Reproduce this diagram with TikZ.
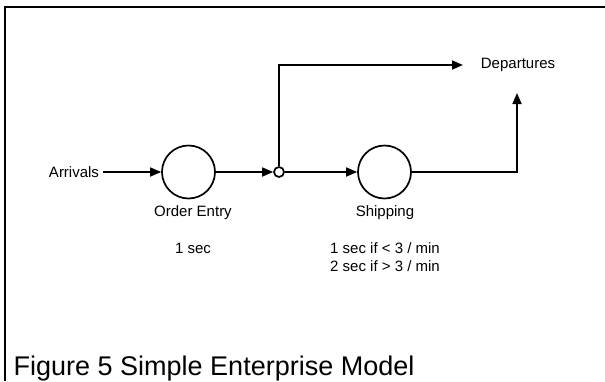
\documentclass[tikz,border=0pt]{standalone}
\usepackage{fontspec}
\setmainfont{Liberation Sans}
\usepackage{tikz}
\usetikzlibrary{arrows.meta,positioning}

\begin{document}
\begin{tikzpicture}[
    x=1pt, y=-1pt,
    every node/.style={font=\fontsize{15}{18}\selectfont},
    >={Triangle[length=11pt,width=9pt]},
    flow/.style={->, line width=1.7pt},
    station/.style={circle, draw, line width=1.7pt, minimum size=53pt, inner sep=0pt},
    junction/.style={circle, draw, line width=1.7pt, fill=white, minimum size=10pt, inner sep=0pt}
]
\useasboundingbox (0,0) rectangle (605,381);

% Frame (top and left edge only)
\draw[line width=2.2pt] (5,381) -- (5,7) -- (605,7);

% Stations
\node[inner sep=4pt] (arr) at (74,172) {Arrivals};
\node[station] (oe) at (188.5,172) {};
\node[junction] (jn) at (279,172) {};
\node[station] (ship) at (384.5,172) {};
\node (dep) at (518,65) {Departures};

% Free ends of the two exits
\coordinate (topend) at (463,65);
\coordinate (rightend) at (517,93);

% Flows
\draw[flow] (arr) -- (oe);
\draw[flow] (oe) -- (jn);
\draw[flow] (jn) -- (ship);
\draw[flow] (jn.north) |- (topend);
\draw[flow] (ship.east) -| (rightend);

% Labels and service times
\node (oename) at (193,213) {Order Entry};
\node (oetime) at (193,248) {1 sec};
\node (shipname) at (385,213) {Shipping};
\node[align=center] (shiptime) at (385,257) {1 sec if < 3 / min\\2 sec if > 3 / min};

% Caption
\node[anchor=base west, inner sep=0pt, font=\fontsize{27}{30}\selectfont] (caption) at (13.5,375) {Figure 5 Simple Enterprise Model};
\end{tikzpicture}
\end{document}
